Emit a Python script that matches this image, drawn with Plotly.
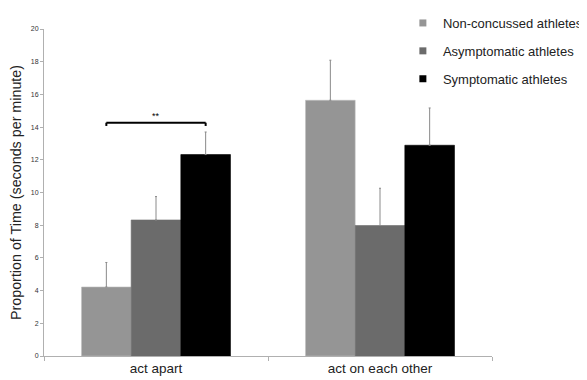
import plotly.graph_objects as go

categories = ["act apart", "act on each other"]
series_names = ["Non-concussed athletes", "Asymptomatic athletes", "Symptomatic athletes"]
non_concussed = [4.22, 15.64]
non_concussed_err = [1.5, 2.45]
asymptomatic = [8.32, 7.98]
asymptomatic_err = [1.43, 2.28]
symptomatic = [12.32, 12.89]
symptomatic_err = [1.38, 2.28]
y_ticks = [0, 2, 4, 6, 8, 10, 12, 14, 16, 18, 20]
bracket_y = 14.27
bracket_label = "**"

colors = ["#959595", "#6b6b6b", "#000000"]
values = [non_concussed, asymptomatic, symptomatic]
errors = [non_concussed_err, asymptomatic_err, symptomatic_err]

bargap = 0.335
FONT = "Liberation Sans, Arial, Helvetica, sans-serif"

fig = go.Figure()
for i, (name, vals, errs, col) in enumerate(zip(series_names, values, errors, colors)):
    fig.add_trace(go.Bar(
        x=categories, y=vals, name=name, showlegend=False,
        marker=dict(color=col, line=dict(color="#bdbdbd" if i == 0 else col, width=0.6)),
        error_y=dict(type="data", array=errs, symmetric=False, arrayminus=[0, 0],
                     color="#8a8a8a", thickness=1, width=1),
        legendgroup=name,
    ))
# legend entries with small square swatches
for name, col in zip(series_names, colors):
    fig.add_trace(go.Scatter(
        x=[None], y=[None], mode="markers", name=name, legendgroup=name,
        marker=dict(symbol="square", size=7, color=col), showlegend=True,
    ))

bar_w = (1 - bargap) / 3
shift = bar_w
fig.add_shape(type="line", xref="x", yref="y", x0=categories[0], x1=categories[0],
              x0shift=-shift, x1shift=shift, y0=bracket_y, y1=bracket_y,
              line=dict(color="black", width=2))
for s in (-shift, shift):
    fig.add_shape(type="line", xref="x", yref="y", x0=categories[0], x1=categories[0],
                  x0shift=s, x1shift=s, y0=bracket_y, y1=bracket_y - 0.2,
                  line=dict(color="black", width=2))
fig.add_annotation(x=categories[0], y=bracket_y, text=bracket_label, showarrow=False,
                   yanchor="bottom", yshift=0, font=dict(size=9, color="black", family=FONT))

fig.update_layout(
    width=579, height=372,
    margin=dict(l=36, r=95, t=21, b=24, autoexpand=False),
    paper_bgcolor="white", plot_bgcolor="white",
    barmode="group", bargap=bargap, bargroupgap=0,
    font=dict(family=FONT, color="#222"),
    legend=dict(xref="container", yref="container", x=0.682, y=1.04, xanchor="left", yanchor="top",
                font=dict(size=13, color="#222", family=FONT),
                tracegroupgap=8, itemwidth=30, borderwidth=0, bgcolor="rgba(0,0,0,0)"),
    showlegend=True,
)
fig.update_xaxes(
    showline=True, linecolor="#b0b0b0", linewidth=1, automargin=False,
    ticks="outside", tickson="boundaries", ticklen=4, tickcolor="#b0b0b0",
    tickfont=dict(size=13.5, color="#222"), showgrid=False,
)
fig.update_yaxes(
    range=[0, 20], tickvals=y_ticks, showline=True, linecolor="#b0b0b0", linewidth=1,
    ticks="outside", ticklen=3, tickcolor="#b0b0b0", tickfont=dict(size=7, color="#333"),
    showgrid=False, zeroline=False, automargin=False,
    title=dict(text="Proportion of Time (seconds per minute)", font=dict(size=14.3, color="#222"), standoff=12),
)

fig.write_html("out.html")
